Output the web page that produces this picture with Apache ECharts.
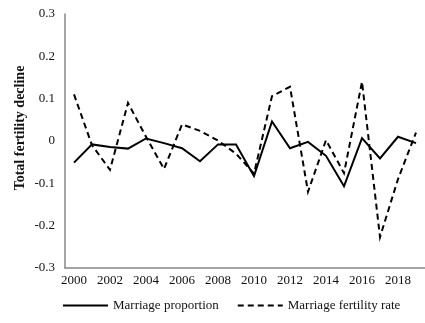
<!DOCTYPE html>
<html>
<head>
<meta charset="utf-8">
<script src="https://cdn.jsdelivr.net/npm/echarts@6/dist/echarts.min.js"></script>
<style>
  html, body { margin: 0; padding: 0; background: #fff; }
  #chart { width: 425px; height: 323px; }
</style>
</head>
<body>
<div id="chart"></div>
<script>
// Years on the horizontal axis
var years = ['2000','2001','2002','2003','2004','2005','2006','2007','2008','2009',
             '2010','2011','2012','2013','2014','2015','2016','2017','2018','2019'];

// Contribution of marriage proportion to the total fertility decline
var marriageProportion = [-0.051, -0.008, -0.014, -0.018, 0.006, -0.005, -0.017, -0.048, -0.008, -0.008,
                          -0.083, 0.046, -0.017, -0.002, -0.035, -0.107, 0.007, -0.041, 0.010, -0.005];

// Contribution of marriage fertility rate to the total fertility decline
var marriageFertilityRate = [0.110, -0.010, -0.068, 0.090, 0.010, -0.066, 0.039, 0.024, 0.001, -0.030,
                             -0.077, 0.106, 0.128, -0.120, 0.002, -0.076, 0.140, -0.227, -0.090, 0.020];

var yTicks = { min: -0.3, max: 0.3, step: 0.1 };

var serif = '"Liberation Serif", "DejaVu Serif", serif';

var chart = echarts.init(document.getElementById('chart'), null, { renderer: 'canvas' });

chart.setOption({
  animation: false,
  backgroundColor: '#ffffff',
  grid: { left: 65, right: -8, top: 14, bottom: 55, containLabel: false },
  legend: {
    left: 57,
    top: 294,
    itemWidth: 45,
    itemHeight: 12,
    itemGap: 18,
    itemStyle: { opacity: 0 },
    textStyle: { fontFamily: serif, fontSize: 13, color: '#111' },
    data: ['Marriage proportion', 'Marriage fertility rate']
  },
  graphic: [
    {
      type: 'text',
      x: 20,
      y: 128,
      rotation: Math.PI / 2,
      style: {
        text: 'Total fertility decline',
        fontFamily: serif,
        fontSize: 14,
        fontWeight: 'bold',
        fill: '#111',
        align: 'center',
        verticalAlign: 'middle'
      }
    }
  ],
  xAxis: {
    type: 'category',
    data: years,
    boundaryGap: true,
    axisLine: { show: true, onZero: false, lineStyle: { color: '#888', width: 1.5 } },
    axisTick: { show: false },
    axisLabel: {
      interval: 1,
      margin: 6,
      fontFamily: serif,
      fontSize: 13,
      color: '#111'
    },
    splitLine: { show: false }
  },
  yAxis: {
    type: 'value',
    min: yTicks.min,
    max: yTicks.max,
    interval: yTicks.step,
    axisLine: { show: true, lineStyle: { color: '#888', width: 1.5 } },
    axisTick: { show: false },
    axisLabel: {
      margin: 10,
      fontFamily: serif,
      fontSize: 13,
      color: '#111',
      formatter: function (v) { return String(Math.round(v * 10) / 10); }
    },
    splitLine: { show: false }
  },
  series: [
    {
      name: 'Marriage proportion',
      type: 'line',
      data: marriageProportion,
      symbol: 'none',
      itemStyle: { color: '#000' },
      lineStyle: { color: '#000', width: 2, type: 'solid', join: 'miter' }
    },
    {
      name: 'Marriage fertility rate',
      type: 'line',
      data: marriageFertilityRate,
      symbol: 'none',
      itemStyle: { color: '#000' },
      lineStyle: { color: '#000', width: 2, type: [6, 4], join: 'miter' }
    }
  ]
});
</script>
</body>
</html>
